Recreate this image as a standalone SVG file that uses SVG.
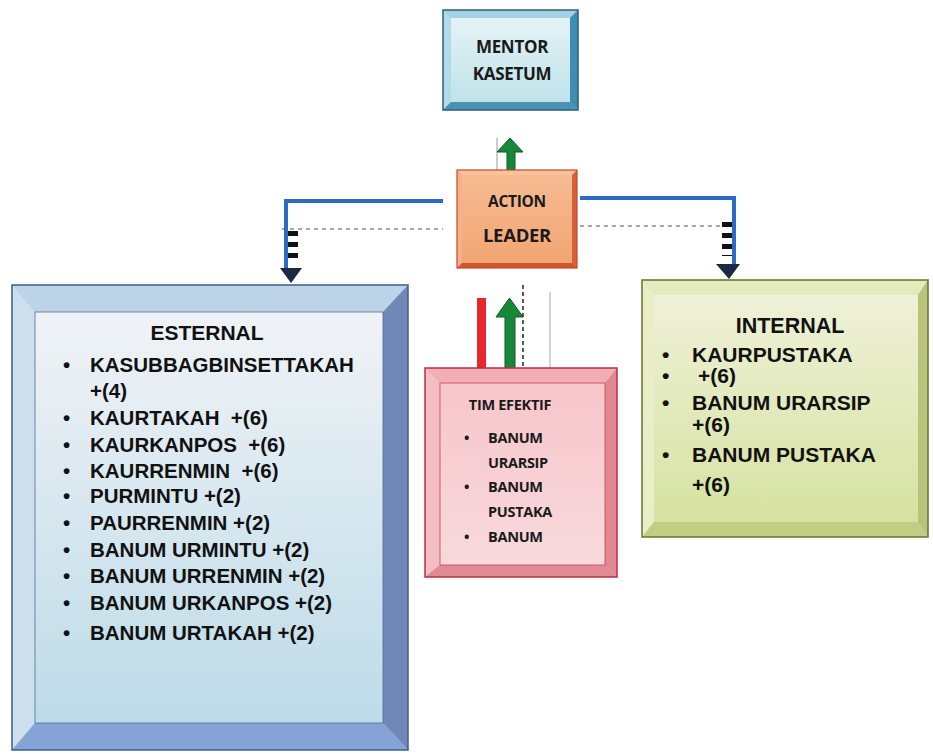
<svg xmlns="http://www.w3.org/2000/svg" width="933" height="754" viewBox="0 0 933 754">
<defs>
<linearGradient id="gEst" x1="0" y1="0" x2="0" y2="1"><stop offset="0" stop-color="#f0f3f6"/><stop offset="1" stop-color="#bddbe8"/></linearGradient>
<linearGradient id="gMen" x1="0" y1="0" x2="0" y2="1"><stop offset="0" stop-color="#e4f3f6"/><stop offset="1" stop-color="#bfe2ea"/></linearGradient>
<linearGradient id="gAct" x1="0" y1="0" x2="0" y2="1"><stop offset="0" stop-color="#f6bb92"/><stop offset="1" stop-color="#f2a572"/></linearGradient>
<linearGradient id="gTim" x1="0" y1="0" x2="0" y2="1"><stop offset="0" stop-color="#f7c6cb"/><stop offset="1" stop-color="#f8d9dc"/></linearGradient>
<linearGradient id="gInt" x1="0" y1="0" x2="0" y2="1"><stop offset="0" stop-color="#eff1d8"/><stop offset="1" stop-color="#d6e2a0"/></linearGradient>
</defs>
<style>
.cal{font-family:"Open Sans","Noto Sans","DejaVu Sans",sans-serif;font-weight:700;fill:#1a1a1a;letter-spacing:-0.3px}
.ari{font-family:"Liberation Sans",Arial,sans-serif;font-weight:bold;fill:#111}
.blue{fill:none;stroke:#2c6cc4;stroke-width:4}
.gdash{fill:none;stroke:#555;stroke-width:1.2;stroke-dasharray:4 4}
.bdash{fill:none;stroke:#111;stroke-width:10;stroke-dasharray:5 6}
.green{fill:#17883a;stroke:#0c5a22;stroke-width:1}
</style>
<rect width="933" height="754" fill="#ffffff"/>

<g id="connectors">
  <line x1="497" y1="138" x2="497" y2="170" stroke="#999" stroke-width="1"/>
  <polygon class="green" points="507,170 507,152 497,152 510,138 523,152 515,152 515,170"/>
  <path class="blue" d="M443,201 H286 V272"/>
  <path class="gdash" d="M282,229 H443"/>
  <line class="bdash" x1="293" y1="231" x2="293" y2="263"/>
  <polygon points="280,268 302,268 291,283" fill="#1b2a42"/>
  <path class="blue" d="M580,198 H734 V266"/>
  <path class="gdash" d="M580,226 H728"/>
  <line class="bdash" x1="727" y1="222" x2="727" y2="256"/>
  <polygon points="716,264 740,264 729,279" fill="#1b2a42"/>
  <rect x="477" y="298" width="9" height="72" fill="#e8262e"/>
  <polygon class="green" points="505,370 505,317 496,317 509.5,298 523,317 515,317 515,370"/>
  <line x1="523" y1="285" x2="523" y2="368" stroke="#222" stroke-width="1.5" stroke-dasharray="4 3"/>
  <line x1="550" y1="292" x2="550" y2="368" stroke="#aaa" stroke-width="1"/>
</g>

<g id="mentor">
  <rect x="443" y="10" width="135" height="100" fill="#8fc5d9"/>
  <polygon points="443,10 578,10 570,18 451,18" fill="#a3d2e2"/>
  <polygon points="443,10 451,18 451,102 443,110" fill="#b3dbe7"/>
  <polygon points="578,10 578,110 570,102 570,18" fill="#3f8db0"/>
  <polygon points="443,110 578,110 570,102 451,102" fill="#4b92b4"/>
  <rect x="451" y="18" width="119" height="84" fill="url(#gMen)"/>
  <rect x="443" y="10" width="135" height="100" fill="none" stroke="#2b5f7a" stroke-width="1.5"/>
  <text class="cal" x="512" y="53" font-size="17" text-anchor="middle">MENTOR</text>
  <text class="cal" x="512" y="80" font-size="17" text-anchor="middle">KASETUM</text>
</g>

<g id="action">
  <rect x="457" y="170" width="120" height="98" fill="#f2a572"/>
  <polygon points="457,170 577,170 572,175 462,175" fill="#f8c29c"/>
  <polygon points="457,170 462,175 462,263 457,268" fill="#f5b288"/>
  <polygon points="577,170 577,268 572,263 572,175" fill="#d6603a"/>
  <polygon points="457,268 577,268 572,263 462,263" fill="#cf5533"/>
  <rect x="462" y="175" width="110" height="88" fill="url(#gAct)"/>
  <rect x="457" y="170" width="120" height="98" fill="none" stroke="#c04a2a" stroke-width="1.2"/>
  <text class="cal" x="517" y="207" font-size="15.5" text-anchor="middle">ACTION</text>
  <text class="cal" x="517" y="242" font-size="18.5" text-anchor="middle">LEADER</text>
</g>

<g id="esternal">
  <rect x="12" y="285" width="396" height="465" fill="#b6cfe6"/>
  <polygon points="12,285 408,285 383,312 35,312" fill="#bcd3e8"/>
  <polygon points="12,285 35,312 35,723 12,750" fill="#cddfed"/>
  <polygon points="408,285 408,750 383,723 383,312" fill="#7088b8"/>
  <polygon points="12,750 408,750 383,723 35,723" fill="#85a3d6"/>
  <rect x="35" y="312" width="348" height="411" fill="url(#gEst)"/>
  <rect x="12" y="285" width="396" height="465" fill="none" stroke="#3f5f85" stroke-width="1.5"/>
  <rect x="35" y="312" width="348" height="411" fill="none" stroke="#4f6f95" stroke-width="0.8"/>
  <text class="ari" x="207" y="340" font-size="21" text-anchor="middle">ESTERNAL</text>
  <g class="ari" font-size="20.5">
    <text x="63" y="372">•</text><text x="90" y="372">KASUBBAGBINSETTAKAH</text>
    <text x="90" y="398">+(4)</text>
    <text x="63" y="425">•</text><text x="90" y="425">KAURTAKAH&#160; +(6)</text>
    <text x="63" y="452">•</text><text x="90" y="452">KAURKANPOS&#160; +(6)</text>
    <text x="63" y="478">•</text><text x="90" y="478">KAURRENMIN&#160; +(6)</text>
    <text x="63" y="503">•</text><text x="90" y="503">PURMINTU +(2)</text>
    <text x="63" y="530">•</text><text x="90" y="530">PAURRENMIN +(2)</text>
    <text x="63" y="557">•</text><text x="90" y="557">BANUM URMINTU +(2)</text>
    <text x="63" y="583">•</text><text x="90" y="583">BANUM URRENMIN +(2)</text>
    <text x="63" y="610">•</text><text x="90" y="610">BANUM URKANPOS +(2)</text>
    <text x="63" y="640">•</text><text x="90" y="640">BANUM URTAKAH +(2)</text>
  </g>
</g>

<g id="tim">
  <rect x="425" y="368" width="192" height="209" fill="#f3b6bd"/>
  <polygon points="425,368 617,368 605,383 440,383" fill="#f2adb5"/>
  <polygon points="425,368 440,383 440,565 425,577" fill="#f5bec4"/>
  <polygon points="617,368 617,577 605,565 605,383" fill="#e08790"/>
  <polygon points="425,577 617,577 605,565 440,565" fill="#e28a94"/>
  <rect x="440" y="383" width="165" height="182" fill="url(#gTim)"/>
  <rect x="425" y="368" width="192" height="209" fill="none" stroke="#b83040" stroke-width="1.5"/>
  <rect x="440" y="383" width="165" height="182" fill="none" stroke="#c04550" stroke-width="0.8"/>
  <text class="cal" x="510" y="410" font-size="14.5" text-anchor="middle">TIM EFEKTIF</text>
  <g class="cal" font-size="14.5">
    <text x="464" y="443">•</text><text x="488" y="443">BANUM</text>
    <text x="488" y="468">URARSIP</text>
    <text x="464" y="492">•</text><text x="488" y="492">BANUM</text>
    <text x="488" y="517">PUSTAKA</text>
    <text x="464" y="542">•</text><text x="488" y="542">BANUM</text>
  </g>
</g>

<g id="internal">
  <rect x="642" y="280" width="286" height="257" fill="#dce5ad"/>
  <polygon points="642,280 928,280 918,295 654,295" fill="#e3eabb"/>
  <polygon points="642,280 654,295 654,522 642,537" fill="#e8eec6"/>
  <polygon points="928,280 928,537 918,522 918,295" fill="#b7c479"/>
  <polygon points="642,537 928,537 918,522 654,522" fill="#c0cd82"/>
  <rect x="654" y="295" width="264" height="227" fill="url(#gInt)"/>
  <rect x="642" y="280" width="286" height="257" fill="none" stroke="#6b7030" stroke-width="1.5"/>
  <text class="ari" x="790" y="333" font-size="21.5" text-anchor="middle">INTERNAL</text>
  <g class="ari" font-size="21">
    <text x="662" y="362">•</text><text x="692" y="362">KAURPUSTAKA</text>
    <text x="662" y="383">•</text><text x="698" y="383">+(6)</text>
    <text x="662" y="410">•</text><text x="692" y="410">BANUM URARSIP</text>
    <text x="692" y="432">+(6)</text>
    <text x="662" y="462">•</text><text x="692" y="462">BANUM PUSTAKA</text>
    <text x="692" y="492">+(6)</text>
  </g>
</g>
</svg>
